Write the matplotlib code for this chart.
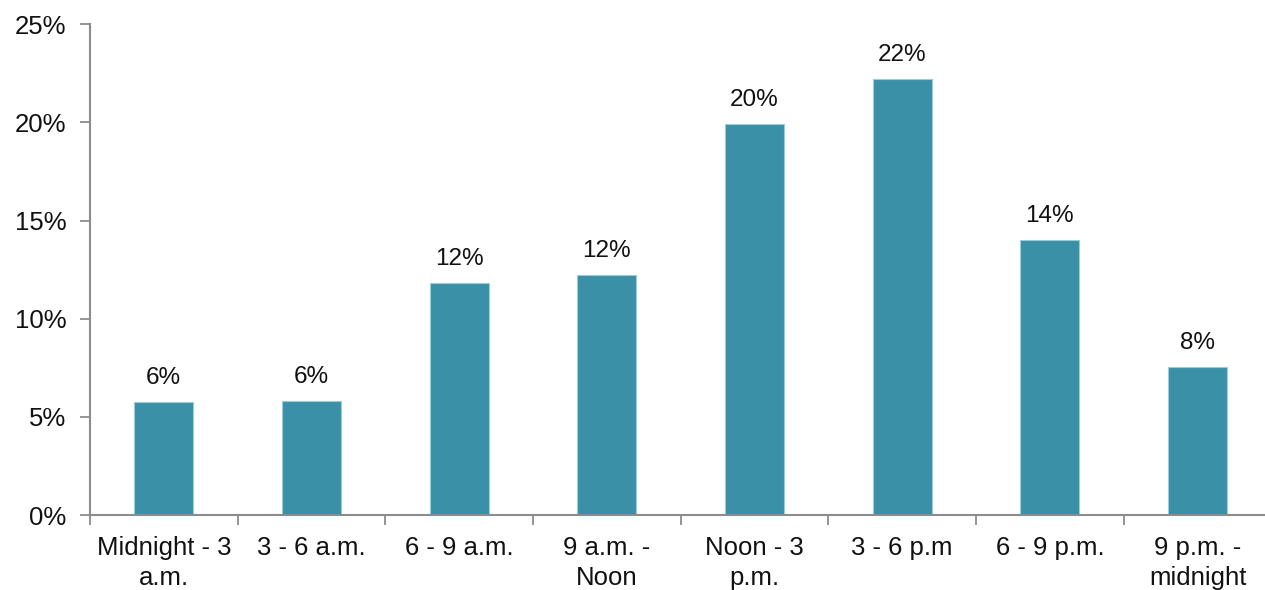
import matplotlib
matplotlib.use('Agg')
import matplotlib.pyplot as plt
import numpy as np

# Share of incidents by time of day
periods = ['Midnight - 3\na.m.', '3 - 6 a.m.', '6 - 9 a.m.', '9 a.m. -\nNoon',
           'Noon - 3\np.m.', '3 - 6 p.m', '6 - 9 p.m.', '9 p.m. -\nmidnight']
shares = [0.0578, 0.0581, 0.1182, 0.1224, 0.1994, 0.2222, 0.1403, 0.0756]
y_ticks = [0, 0.05, 0.10, 0.15, 0.20, 0.25]

plt.rcParams['font.family'] = ['Liberation Sans', 'DejaVu Sans']

fig = plt.figure(figsize=(12.65, 5.9), dpi=100)
ax = fig.add_axes([0.0711, 0.127, 0.934, 0.832])

x = np.arange(len(periods))
ax.bar(x, shares, width=0.4, color='#3A90A6', edgecolor='#9BCCD9', linewidth=0.8)

# value labels above the bars
for xi, v in zip(x, shares):
    ax.annotate('{:.0%}'.format(v), (xi, v), xytext=(0, 9), textcoords='offset points',
                ha='center', va='bottom', fontsize=17.5, color='#111111')

ax.set_xlim(-0.5, len(periods) - 0.5)
ax.set_ylim(0, 0.25)
ax.set_yticks(y_ticks)
ax.set_yticklabels(['{:.0%}'.format(t) for t in y_ticks])

# boundary ticks between categories, labels at the centres
ax.set_xticks(np.arange(len(periods) + 1) - 0.5)
ax.set_xticklabels([])
ax.set_xticks(x, minor=True)
ax.set_xticklabels(periods, minor=True, linespacing=1.3)
ax.tick_params(axis='x', which='major', direction='out', length=7, width=1.3, color='#8C8C8C')
ax.tick_params(axis='x', which='minor', length=0, pad=15, labelsize=18.5, labelcolor='#111111')
ax.tick_params(axis='y', direction='out', length=7, width=1.3, color='#8C8C8C',
               labelsize=18.5, labelcolor='#111111', pad=10)

for side in ['top', 'right']:
    ax.spines[side].set_visible(False)
for side in ['left', 'bottom']:
    ax.spines[side].set_color('#8C8C8C')
    ax.spines[side].set_linewidth(1.5)

fig.savefig('out.png', dpi=100)
